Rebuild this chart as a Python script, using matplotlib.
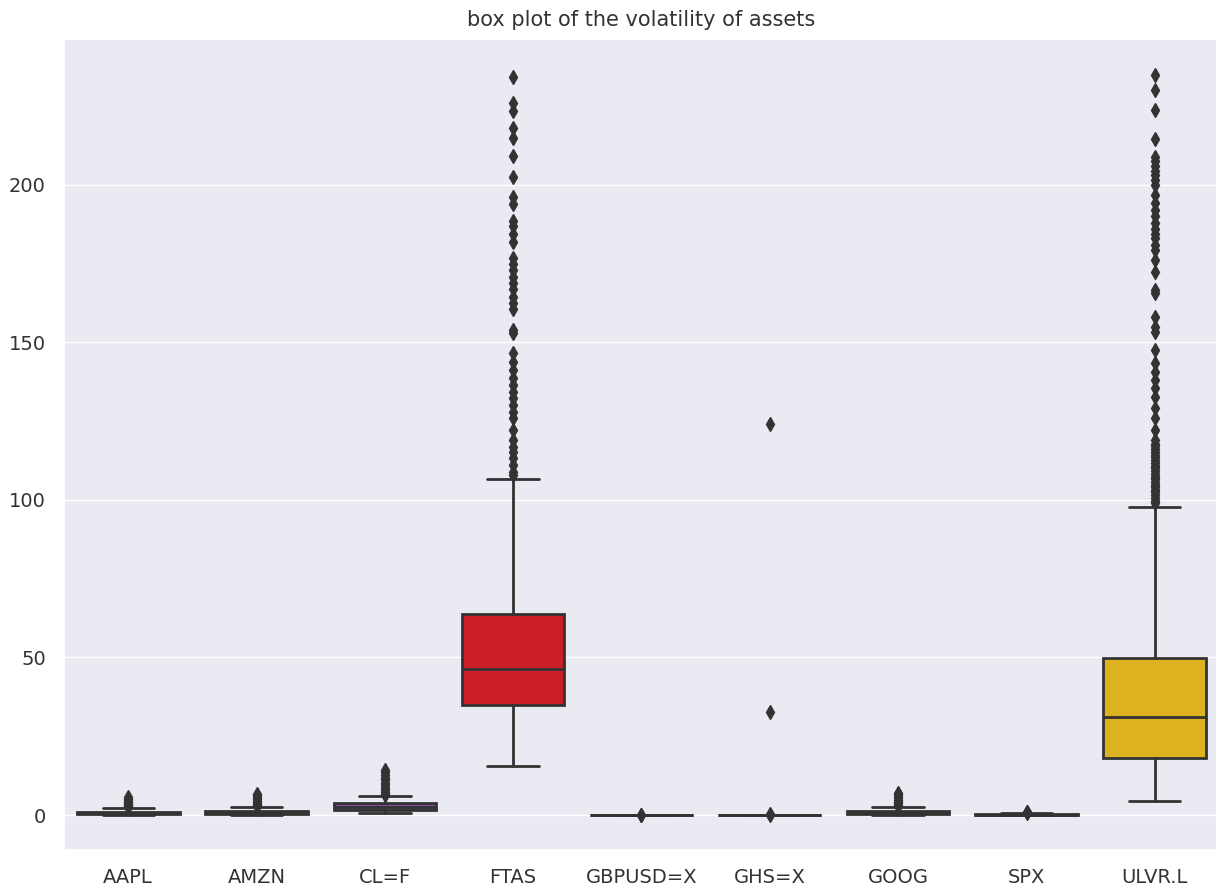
import matplotlib
matplotlib.use('Agg')
import matplotlib.pyplot as plt
import seaborn as sns

sns.set_theme(style='darkgrid')
plt.rcParams['font.family'] = ['DejaVu Sans']

# 资产名称
assets = ['AAPL', 'AMZN', 'CL=F', 'FTAS', 'GBPUSD=X', 'GHS=X', 'GOOG', 'SPX', 'ULVR.L']

# 箱线图统计量
whislo = [0.0, 0.0, 0.7, 15.6, 0.0, 0.0, 0.0, 0.0, 4.4]
q1 = [0.3, 0.4, 1.5, 34.9, 0.0, 0.0, 0.4, 0.0, 18.1]
med = [0.6, 0.8, 2.5, 46.5, 0.0, 0.0, 0.8, 0.1, 31.0]
q3 = [1.1, 1.4, 3.8, 63.8, 0.0, 0.0, 1.4, 0.3, 49.8]
whishi = [2.3, 2.7, 6.0, 106.7, 0.0, 0.0, 2.6, 0.6, 97.8]

# 异常值
fliers_aapl = [2.5, 2.8, 3.1, 3.4, 3.8, 4.2, 4.7, 5.2, 5.8]
fliers_amzn = [2.9, 3.2, 3.6, 4.0, 4.5, 5.0, 5.6, 6.2, 6.6]
fliers_clf = [6.3, 6.8, 7.4, 8.0, 8.7, 9.4, 10.2, 11.0, 11.9, 12.8, 13.5, 14.2]
fliers_ftas = [107.9, 109.0, 111.1, 113.2, 115.3, 116.9, 119.0, 122.2, 125.9, 128.0,
               130.2, 132.3, 134.4, 136.5, 138.6, 141.3, 143.9, 146.6, 152.9, 154.0,
               160.5, 162.6, 164.3, 166.9, 169.0, 170.9, 173.0, 174.9, 176.7, 182.0,
               184.4, 186.8, 188.4, 194.0, 196.3, 202.4, 209.3, 214.8, 218.0, 223.6,
               226.1, 234.2]
fliers_gbpusd = [0.0, 0.05]
fliers_ghs = [0.0, 0.4, 32.6, 124.0]
fliers_goog = [2.8, 3.2, 3.7, 4.2, 4.8, 5.4, 6.0, 6.6, 7.0]
fliers_spx = [0.7, 0.9, 1.1]
fliers_ulvr = [98.9, 99.8, 100.6, 101.5, 102.4, 103.3, 104.0, 104.8, 105.7, 106.5,
               107.4, 108.2, 109.1, 110.0, 110.8, 111.7, 112.6, 113.5, 114.3, 115.2,
               116.1, 117.0, 117.9, 119.0, 122.2, 125.9, 129.1, 132.8, 135.4, 138.1,
               140.7, 143.4, 147.6, 153.4, 155.0, 158.2, 165.6, 166.7, 172.5, 176.2,
               179.4, 181.0, 183.0, 184.5, 186.0, 188.0, 190.0, 192.0, 194.2, 196.8,
               200.0, 201.5, 203.0, 204.5, 206.0, 207.5, 209.0, 214.6, 223.8, 230.2,
               234.9]
fliers = [fliers_aapl, fliers_amzn, fliers_clf, fliers_ftas, fliers_gbpusd,
          fliers_ghs, fliers_goog, fliers_spx, fliers_ulvr]

colors = ['#3b6fb6', '#3f9a4a', '#7d4b9b', '#cb1f27', '#e07b1a',
          '#a65628', '#d07aa8', '#8c8c8c', '#ddb220']

line_color = '#333333'

fig = plt.figure(figsize=(12.16, 8.88), dpi=100)
ax = fig.add_axes([64 / 1216, 38 / 888, 1155 / 1216, 811 / 888])

stats = []
for i, name in enumerate(assets):
    stats.append({'label': name, 'whislo': whislo[i], 'q1': q1[i], 'med': med[i],
                  'q3': q3[i], 'whishi': whishi[i], 'fliers': fliers[i]})

bp = ax.bxp(stats, positions=range(len(assets)), widths=0.8, patch_artist=True,
            showfliers=True,
            boxprops=dict(edgecolor=line_color, linewidth=2),
            medianprops=dict(color=line_color, linewidth=2),
            whiskerprops=dict(color=line_color, linewidth=2),
            capprops=dict(color=line_color, linewidth=2),
            flierprops=dict(marker='d', markerfacecolor=line_color,
                            markeredgecolor=line_color, markersize=7.5))
for patch, c in zip(bp['boxes'], colors):
    patch.set_facecolor(c)

ax.set_xlim(-0.5, len(assets) - 0.5)
ax.set_ylim(-11.1, 246.3)
ax.set_yticks([0, 50, 100, 150, 200])
ax.xaxis.grid(False)
ax.tick_params(axis='both', labelsize=14, colors='#333333', pad=7)
ax.set_title('box plot of the volatility of assets', fontsize=15, color='#333333', pad=9)

fig.savefig('out.png', dpi=100)
